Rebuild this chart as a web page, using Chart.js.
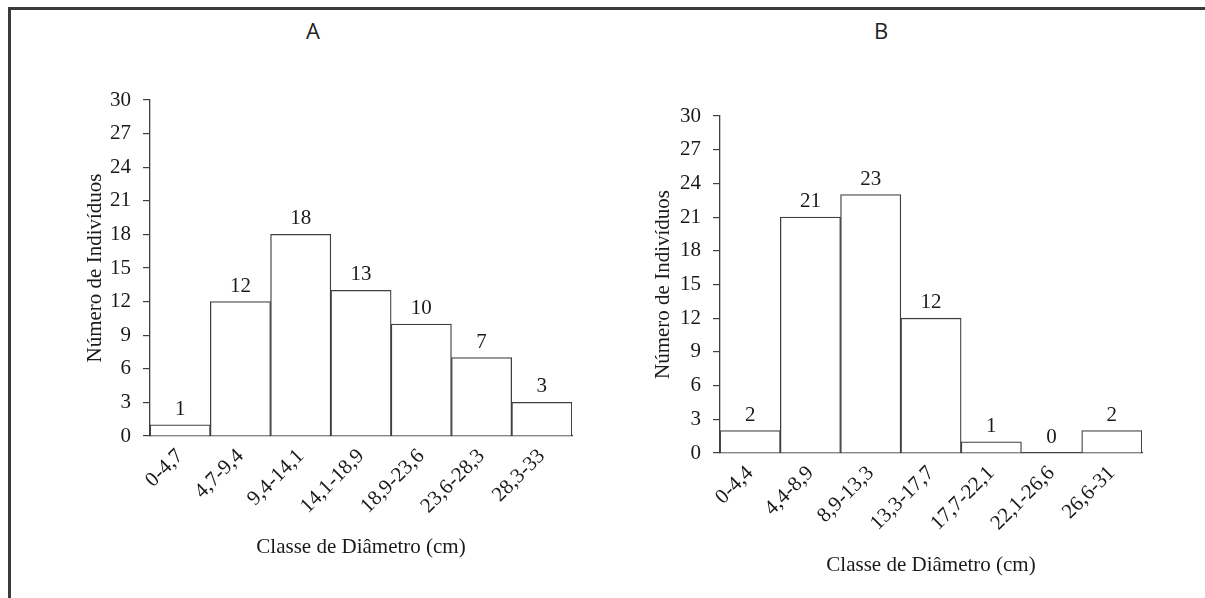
<!DOCTYPE html>
<html>
<head>
<meta charset="utf-8">
<script src="https://cdn.jsdelivr.net/npm/chart.js@4/dist/chart.umd.min.js"></script>
<style>
html,body{margin:0;padding:0;background:#fff;width:1205px;height:598px;overflow:hidden;position:relative}
#frameTop{position:absolute;left:8px;top:7px;width:1197px;height:3px;background:#3a3a3a}
#frameLeft{position:absolute;left:8px;top:7px;width:3px;height:591px;background:#3a3a3a}
.ttl{position:absolute;top:14px;font-family:"Open Sans",sans-serif;font-weight:400;font-size:22px;line-height:32px;color:#222;transform:translateX(-50%)}
#cA{position:absolute;left:0;top:0}
#cB{position:absolute;left:600px;top:0}
</style>
</head>
<body>
<div id="frameTop"></div>
<div id="frameLeft"></div>
<div class="ttl" style="left:313px">A</div>
<div class="ttl" style="left:881px">B</div>
<canvas id="cA" width="600" height="598"></canvas>
<canvas id="cB" width="605" height="598"></canvas>
<script>
const categoriesA = ['0-4,7','4,7-9,4','9,4-14,1','14,1-18,9','18,9-23,6','23,6-28,3','28,3-33'];
const valuesA = [1, 12, 18, 13, 10, 7, 3];
const categoriesB = ['0-4,4','4,4-8,9','8,9-13,3','13,3-17,7','17,7-22,1','22,1-26,6','26,6-31'];
const valuesB = [2, 21, 23, 12, 1, 0, 2];
const yMin = 0, yMax = 30, yStep = 3;
const xTitle = 'Classe de Diâmetro (cm)';
const yTitle = 'Número de Indivíduos';

const FONT = {family: '"Liberation Serif", "Times New Roman", serif', size: 21};
const TXT = '#1a1a1a';
const LINE = '#3f3f3f';

const valueLabels = {
  id: 'valueLabels',
  afterDatasetsDraw(chart) {
    const ctx = chart.ctx;
    ctx.save();
    ctx.font = FONT.size + 'px ' + FONT.family;
    ctx.fillStyle = TXT;
    ctx.textAlign = 'center';
    ctx.textBaseline = 'alphabetic';
    chart.data.datasets.forEach((ds, i) => {
      chart.getDatasetMeta(i).data.forEach((el, j) => {
        ctx.fillText(String(ds.data[j]), el.x, el.y - 10);
      });
    });
    ctx.restore();
  }
};

function makeChart(id, cats, vals, pad, yWidth, xHeight, yTitlePad, xTitlePad) {
  return new Chart(document.getElementById(id), {
    type: 'bar',
    data: {
      labels: cats,
      datasets: [{
        data: vals,
        backgroundColor: '#ffffff',
        borderColor: LINE,
        borderWidth: 1.3,
        barPercentage: 1,
        categoryPercentage: 1
      }]
    },
    options: {
      responsive: false,
      animation: false,
      layout: {padding: pad},
      plugins: {legend: {display: false}, tooltip: {enabled: false}},
      scales: {
        x: {
          grid: {display: false, drawTicks: false},
          border: {display: true, color: LINE, width: 1.3},
          ticks: {font: FONT, color: TXT, minRotation: 45, maxRotation: 45, autoSkip: false, padding: 8},
          title: {display: true, text: xTitle, font: FONT, color: TXT, padding: {top: 0, bottom: xTitlePad}},
          afterFit(s) { s.height = xHeight; }
        },
        y: {
          min: yMin, max: yMax,
          ticks: {stepSize: yStep, font: FONT, color: TXT, padding: 12},
          grid: {drawOnChartArea: false, drawTicks: true, tickLength: 7, color: LINE, lineWidth: 1.2},
          border: {display: true, color: LINE, width: 1.3},
          title: {display: true, text: yTitle, font: FONT, color: TXT, padding: {top: yTitlePad, bottom: 0}},
          afterFit(s) { s.width = yWidth; }
        }
      }
    },
    plugins: [valueLabels]
  });
}

makeChart('cA', categoriesA, valuesA, {left: 0, top: 100, right: 28, bottom: 0}, 150, 162, 82.4, 38.4);
makeChart('cB', categoriesB, valuesB, {left: 0, top: 116, right: 63, bottom: 0}, 120, 145, 50.4, 20.4);
</script>
</body>
</html>
